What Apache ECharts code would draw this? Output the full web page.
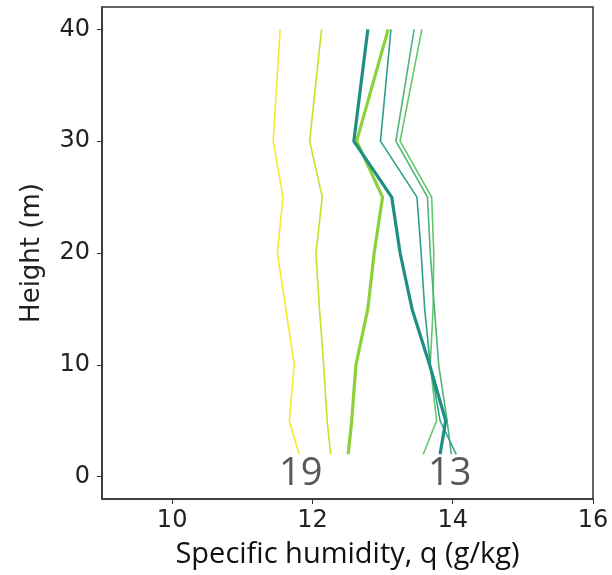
<!DOCTYPE html>
<html>
<head>
<meta charset="utf-8">
<script src="https://cdn.jsdelivr.net/npm/echarts@6/dist/echarts.min.js"></script>
<style>
html,body{margin:0;padding:0;background:#fff;}
#chart{width:612px;height:575px;}
</style>
</head>
<body>
<div id="chart"></div>
<script>
// Heights (m)
var heights = [2, 5, 10, 15, 20, 25, 30, 40];
// Specific humidity (g/kg) per profile
var q19 = [11.81, 11.67, 11.74, 11.62, 11.50, 11.58, 11.44, 11.54];
var q18 = [12.26, 12.21, 12.16, 12.10, 12.05, 12.14, 11.96, 12.13];
var q17 = [12.51, 12.56, 12.62, 12.79, 12.88, 13.00, 12.63, 13.08];
var q16 = [13.58, 13.77, 13.68, 13.72, 13.73, 13.70, 13.25, 13.56];
var q15 = [13.98, 13.92, 13.80, 13.74, 13.68, 13.64, 13.19, 13.45];
var q14 = [14.05, 13.82, 13.68, 13.60, 13.55, 13.49, 12.97, 13.12];
var q13 = [13.82, 13.90, 13.67, 13.42, 13.25, 13.13, 12.59, 12.79];
var xTicks = [10, 12, 14, 16];
var yTicks = [0, 10, 20, 30, 40];
var profileLabels = ['19', '13'];

var profiles = [
  {name: '19', q: q19, color: '#f2ea2a', width: 1.6},
  {name: '18', q: q18, color: '#c9df2c', width: 1.6},
  {name: '17', q: q17, color: '#8cd13a', width: 3.2},
  {name: '16', q: q16, color: '#62c86a', width: 1.6},
  {name: '15', q: q15, color: '#4fb57a', width: 1.6},
  {name: '14', q: q14, color: '#2f9f8f', width: 1.6},
  {name: '13', q: q13, color: '#1f8f82', width: 3.2}
];

function pairs(q) {
  var out = [];
  for (var i = 0; i < heights.length; i++) out.push([q[i], heights[i]]);
  return out;
}

var series = profiles.map(function (p) {
  return {
    name: p.name,
    type: 'line',
    data: pairs(p.q),
    showSymbol: false,
    symbol: 'none',
    lineStyle: {color: p.color, width: p.width},
    z: 3,
    silent: true,
    animation: false
  };
});

var DV = '"DejaVu Sans", sans-serif';
var chart = echarts.init(document.getElementById('chart'), null, {renderer: 'canvas'});
chart.setOption({
  animation: false,
  backgroundColor: '#ffffff',
  grid: {left: 102, right: 19, top: 7, bottom: 76, outerBoundsMode: 'none', containLabel: false, show: true, borderColor: '#333', borderWidth: 1.5, backgroundColor: 'transparent'},
  xAxis: {
    type: 'value', min: 9, max: 16,
    axisLine: {show: true, onZero: false, lineStyle: {color: '#333', width: 1.5}},
    axisTick: {show: true, customValues: xTicks, length: 5, lineStyle: {color: '#333'}},
    axisLabel: {customValues: xTicks, fontFamily: DV, fontSize: 24, color: '#222', margin: 10},
    splitLine: {show: false},
    name: 'Specific humidity, q (g/kg)',
    nameLocation: 'middle',
    nameGap: 41,
    nameTextStyle: {fontFamily: '"Open Sans", sans-serif', fontSize: 29, color: '#111'}
  },
  yAxis: {
    type: 'value', min: -2, max: 42,
    axisLine: {show: true, onZero: false, lineStyle: {color: '#333', width: 1.5}},
    axisTick: {show: true, customValues: yTicks, length: 5, lineStyle: {color: '#333'}},
    axisLabel: {customValues: yTicks, fontFamily: DV, fontSize: 24, color: '#222', margin: 12},
    splitLine: {show: false},
    name: 'Height (m)',
    nameLocation: 'middle',
    nameGap: 57,
    nameTextStyle: {fontFamily: DV, fontSize: 26, color: '#222'}
  },
  graphic: [
    {type: 'text', left: 279, top: 455, style: {text: profileLabels[0], fontFamily: '"Open Sans", sans-serif', fontSize: 38, fill: '#595959'}},
    {type: 'text', left: 428, top: 455, style: {text: profileLabels[1], fontFamily: '"Open Sans", sans-serif', fontSize: 38, fill: '#595959'}}
  ],
  series: series
});
</script>
</body>
</html>
